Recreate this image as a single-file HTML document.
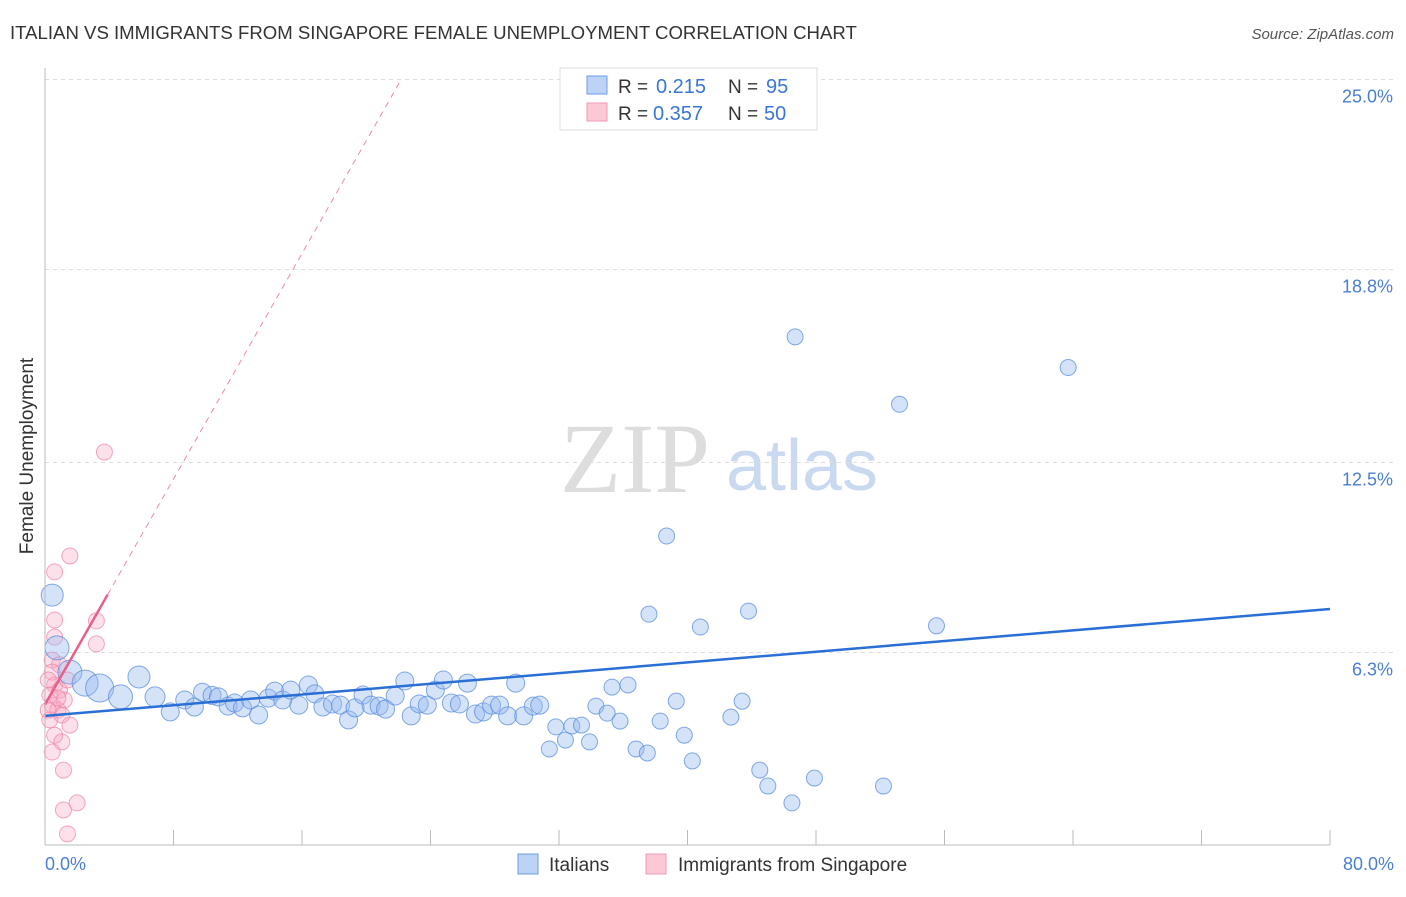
<!DOCTYPE html>
<html><head><meta charset="utf-8"><style>
body{margin:0;background:#fff;font-family:"Liberation Sans",sans-serif}
</style></head><body>
<svg id="c" width="1406" height="892" font-family="Liberation Sans, sans-serif">
<text x="10" y="39" font-size="18.6" fill="#333">ITALIAN VS IMMIGRANTS FROM SINGAPORE FEMALE UNEMPLOYMENT CORRELATION CHART</text>
<text x="1394" y="39" font-size="15" fill="#555" font-style="italic" text-anchor="end">Source: ZipAtlas.com</text>
<text x="33" y="456" font-size="19" fill="#333" text-anchor="middle" transform="rotate(-90 33 456)">Female Unemployment</text>
<g><text x="635" y="492" font-size="100" fill="#ddd" style="font-family:'Liberation Serif',serif" text-anchor="middle">ZIP</text><text x="802" y="490" font-size="72" fill="#c9d9ef" text-anchor="middle">atlas</text></g>
<g id="grid"></g><g id="ticks"></g><g id="marks"></g>
<line x1="45" y1="68" x2="45" y2="845" stroke="#bbb"/>
<line x1="45" y1="845" x2="1330" y2="845" stroke="#bbb"/>
<text x="45" y="870" font-size="18" fill="#4a7fd4">0.0%</text>
<text x="1394" y="870" font-size="18" fill="#4a7fd4" text-anchor="end">80.0%</text>
<g>
<rect x="560" y="68" width="257" height="62" fill="#fff" stroke="#ddd"/>
<rect x="587" y="76" width="20" height="18" fill="#bcd3f5" stroke="#6a9ee8"/>
<rect x="587" y="103" width="20" height="18" fill="#fcc8d6" stroke="#ef9ab2"/>
<text x="618" y="93" font-size="19" fill="#333">R = </text><text x="656" y="93" font-size="20" fill="#3a76d6">0.215</text>
<text x="728" y="93" font-size="19" fill="#333">N = </text><text x="766" y="93" font-size="20" fill="#3a76d6">95</text>
<text x="618" y="120" font-size="19" fill="#333">R = </text><text x="653" y="120" font-size="20" fill="#3a76d6">0.357</text>
<text x="728" y="120" font-size="19" fill="#333">N = </text><text x="764" y="120" font-size="20" fill="#3a76d6">50</text>
</g>
<g>
<rect x="518" y="854" width="20" height="20" fill="#bcd3f5" stroke="#6a9ee8"/>
<text x="549" y="871" font-size="19" fill="#333">Italians</text>
<rect x="646" y="854" width="20" height="20" fill="#fcc8d6" stroke="#ef9ab2"/>
<text x="678" y="871" font-size="19" fill="#333">Immigrants from Singapore</text>
</g>
</svg>
<script>
const yTicks=[25,18.8,12.5,6.3];
const yTickLabels=["25.0%","18.8%","12.5%","6.3%"];
const xTicks=[0,8,16,24,32,40,48,56,64,72,80];
const blueX=[46.7,63.7,53.2,38.7,37.6,43.8,40.8,55.5,0.45,0.75,5.85,1.55,2.5,3.4,4.7,6.85,7.8,8.7,9.3,9.8,10.4,10.8,11.4,11.8,12.3,12.8,13.3,13.9,14.3,14.8,15.3,15.8,16.4,16.8,17.3,17.9,18.4,18.9,19.3,19.8,20.3,20.8,21.2,21.8,22.4,22.8,23.3,23.8,24.3,24.8,25.3,25.8,26.3,26.8,27.3,27.8,28.3,28.8,29.3,29.8,30.4,30.8,31.4,31.8,32.4,32.8,33.4,33.9,34.3,35.0,35.3,35.8,36.3,36.8,37.5,38.3,39.3,39.8,40.3,42.7,43.4,44.5,45.0,46.5,47.9,52.2,41.8];
const blueY=[16.6,15.6,14.4,10.1,7.55,7.65,7.13,7.17,8.17,6.45,5.5,5.66,5.3,5.14,4.85,4.85,4.36,4.75,4.52,5.0,4.9,4.85,4.55,4.65,4.49,4.75,4.26,4.81,5.04,4.75,5.07,4.58,5.24,4.95,4.52,4.62,4.58,4.1,4.49,4.91,4.58,4.55,4.45,4.88,5.37,4.23,4.62,4.58,5.07,5.4,4.65,4.62,5.3,4.29,4.36,4.58,4.58,4.23,5.3,4.23,4.55,4.58,3.15,3.87,3.44,3.9,3.93,3.38,4.55,4.32,5.17,4.06,5.24,3.15,3.02,4.06,4.71,3.6,2.76,4.19,4.71,2.46,1.94,1.39,2.2,1.94,24.7];
const blueR=[8,8,8,8,8,8,8,8,11,12,11,12,13,14,12,10,9,9,9,9,9,9,9,9,9,9,9,9,9,9,9,9,9,9,9,9,9,9,9,9,9,9,9,9,9,9,9,9,9,9,9,9,9,9,9,9,9,9,9,9,9,9,8,8,8,8,8,8,8,8,8,8,8,8,8,8,8,8,8,8,8,8,8,8,8,8,8];
const pinkX=[3.7,1.55,0.6,0.6,3.2,0.6,3.2,0.45,0.9,0.45,0.6,0.3,0.9,0.45,0.8,0.3,1.05,1.55,0.6,1.05,0.45,1.15,2.0,1.15,1.4,1.2,1.4,0.2,0.8,0.2];
const pinkY=[12.84,9.45,8.93,7.36,7.33,6.8,6.58,6.05,5.9,5.66,5.24,4.91,5.07,4.58,4.42,4.1,4.26,3.93,3.6,3.38,3.05,2.46,1.39,1.16,0.38,4.75,5.4,5.4,4.81,4.42];
const blueLine=[4.23,7.72];
const pinkLine=[4.6,0.92];
const sx=v=>45+v*1285/80, sy=v=>845.5-v*30.64;
const NS="http://www.w3.org/2000/svg";
function mk(p,t,a){const e=document.createElementNS(NS,t);for(const k in a)e.setAttribute(k,a[k]);document.getElementById(p).appendChild(e);return e;}
yTicks.forEach((t,i)=>{
 const l=mk('grid','line',{x1:45,x2:1394,y1:sy(t),y2:sy(t),stroke:'#ddd','stroke-dasharray':'4 4'});
 
 
 const tx=mk('grid','text',{x:1393,y:sy(t)+23,'font-size':18,fill:'#4a7fd4','text-anchor':'end'});
 tx.textContent=yTickLabels[i];
 
 
});
xTicks.forEach(t=>{
 const l=mk('ticks','line',{x1:sx(t),x2:sx(t),y1:830,y2:845,stroke:'#bbb'});
 
 
});
pinkX.forEach((x,i)=>{
 const c=mk('marks','circle',{cx:sx(x),cy:sy(pinkY[i]),r:8,fill:'rgba(248,170,195,0.35)',stroke:'rgba(238,130,165,0.7)'});
 
 
});
blueX.forEach((x,i)=>{
 const c=mk('marks','circle',{cx:sx(x),cy:sy(blueY[i]),r:blueR[i],fill:'rgba(150,185,240,0.4)',stroke:'rgba(80,135,220,0.7)'});
 
 
});
const bl=mk('marks','line',{x1:sx(0),y1:sy(blueLine[0]),x2:sx(80),y2:sy(blueLine[1]),stroke:'#2a6fd6','stroke-width':2.5});


const xEnd=(25-pinkLine[0])/pinkLine[1];
const pd=mk('marks','line',{x1:sx(3.9),y1:sy(pinkLine[0]+pinkLine[1]*3.9),x2:sx(xEnd),y2:sy(25),stroke:'#ee88a8','stroke-width':1,'stroke-dasharray':'6 5'});


const pl=mk('marks','line',{x1:sx(0),y1:sy(pinkLine[0]),x2:sx(3.9),y2:sy(pinkLine[0]+pinkLine[1]*3.9),stroke:'#e8608a','stroke-width':2.5});


</script>
</body></html>
